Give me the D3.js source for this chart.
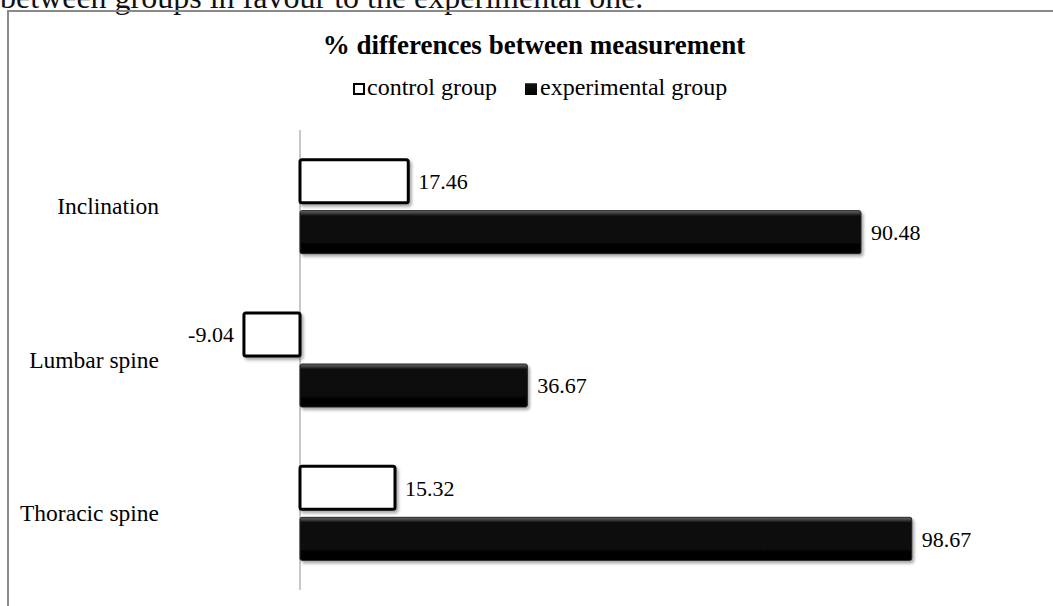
<!DOCTYPE html>
<html><head><meta charset="utf-8">
<script src="https://cdn.jsdelivr.net/npm/d3@7/dist/d3.min.js"></script>
<style>html,body{margin:0;padding:0;background:#fff;overflow:hidden}</style>
</head><body>
<svg id="c" width="1053" height="606"></svg>
<script>
const categories = ["Inclination", "Lumbar spine", "Thoracic spine"];
const seriesNames = ["control group", "experimental group"];
const controlValues = [17.46, -9.04, 15.32];
const experimentalValues = [90.48, 36.67, 98.67];
const titleText = "% differences between measurement";
const captionText = "between groups in favour to the experimental one.";

const svg = d3.select("#c");
const font = "'Liberation Serif', 'Times New Roman', serif";
const defs = svg.append("defs");
const f = defs.append("filter").attr("id","sh").attr("x","-10%").attr("y","-20%").attr("width","130%").attr("height","160%");
f.append("feDropShadow").attr("dx",2).attr("dy",2.5).attr("stdDeviation",1.6).attr("flood-color","#000").attr("flood-opacity",0.35);
const g1 = defs.append("linearGradient").attr("id","bev").attr("x1",0).attr("y1",0).attr("x2",0).attr("y2",1);
g1.append("stop").attr("offset","0").attr("stop-color","#6a6a6a");
g1.append("stop").attr("offset","0.12").attr("stop-color","#111");
g1.append("stop").attr("offset","0.85").attr("stop-color","#050505");
g1.append("stop").attr("offset","1").attr("stop-color","#000");

// caption text (cut off at top, as in the source page)
svg.append("text").attr("x",0).attr("y",8).attr("font-family",font).attr("font-size",32).attr("fill","#111").text(captionText);
// chart frame
svg.append("rect").attr("x",8).attr("y",11).attr("width",1100).attr("height",700).attr("fill","none").attr("stroke","#8a8a8a").attr("stroke-width",2);

const x = d3.scaleLinear().domain([-20, 120]).range([176, 1044]);
const y0 = d3.scaleBand().domain(categories).range([130, 590]).paddingInner(0.387).paddingOuter(0.1935);
const y1 = d3.scaleBand().domain(seriesNames).range([0, y0.bandwidth()]).paddingInner(0.157);

// title
svg.append("text").attr("x",534).attr("y",54).attr("text-anchor","middle").attr("font-family",font).attr("font-weight","bold").attr("font-size",27).attr("fill","#000").text(titleText);

// legend
const leg = [{name:seriesNames[0], x:353, tx:367},{name:seriesNames[1], x:525, tx:540}];
leg.forEach((l,i)=>{
  if(i===0) svg.append("rect").attr("x",l.x+1).attr("y",84).attr("width",10).attr("height",10).attr("fill","#fff").attr("stroke","#000").attr("stroke-width",2);
  else svg.append("rect").attr("x",l.x).attr("y",83).attr("width",12).attr("height",12).attr("fill","url(#bev)");
  svg.append("text").attr("x",l.tx).attr("y",95).attr("font-family",font).attr("font-size",24).attr("fill","#000").text(l.name);
});

// zero line
svg.append("line").attr("x1",x(0)).attr("x2",x(0)).attr("y1",130).attr("y2",590).attr("stroke","#b5b5b5").attr("stroke-width",1.5);

// category labels
const yAxis = d3.axisLeft(y0).tickSize(0).tickPadding(0);
const ya = svg.append("g").attr("transform","translate(159,0)").call(yAxis);
ya.select(".domain").remove();
ya.selectAll("text").attr("font-family",font).attr("font-size",23.5).attr("fill","#000");

const rows = categories.map((c,i)=>({cat:c, vals:[{s:seriesNames[0], v:controlValues[i]},{s:seriesNames[1], v:experimentalValues[i]}]}));
const grp = svg.selectAll("g.cat").data(rows).join("g").attr("class","cat").attr("transform",d=>`translate(0,${y0(d.cat)})`);
grp.selectAll("rect.bar").data(d=>d.vals).join("rect").attr("class","bar")
  .attr("x",d=>x(Math.min(0,d.v)))
  .attr("y",d=>y1(d.s))
  .attr("width",d=>Math.abs(x(d.v)-x(0)))
  .attr("height",y1.bandwidth())
  .attr("rx",2)
  .attr("fill",d=>d.s===seriesNames[0]?"#fff":"url(#bev)")
  .attr("stroke",d=>d.s===seriesNames[0]?"#000":"#222")
  .attr("stroke-width",d=>d.s===seriesNames[0]?3:1)
  .attr("filter","url(#sh)");
grp.selectAll("text.val").data(d=>d.vals).join("text").attr("class","val")
  .attr("x",d=>d.v<0? x(d.v)-10 : x(d.v)+10)
  .attr("y",d=>y1(d.s)+y1.bandwidth()/2)
  .attr("dy","0.35em")
  .attr("text-anchor",d=>d.v<0?"end":"start")
  .attr("font-family",font).attr("font-size",22).attr("fill","#000")
  .text(d=>d.v.toFixed(2));
</script>
</body></html>
